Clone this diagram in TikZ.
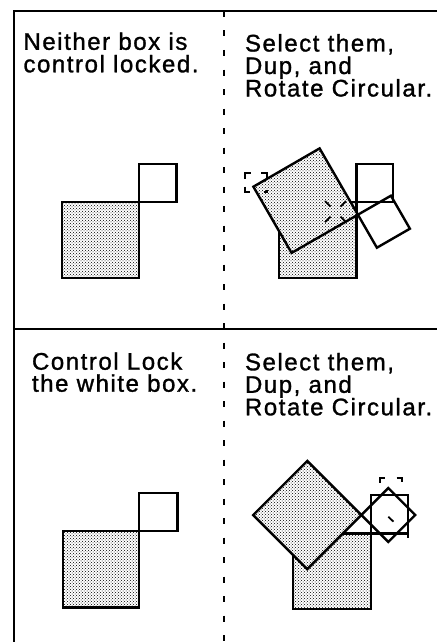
\documentclass[tikz,border=0pt]{standalone}
\usepackage{fontspec}
\setmainfont{Liberation Sans}[LetterSpace=6.5, FakeBold=1.2]
\usetikzlibrary{patterns}
\tikzset{
  frameline/.style={line width=2pt, black},
  vdashline/.style={line width=2.2pt, black, dash pattern=on 6pt off 13.5pt},
  gsq/.style={draw=black, line width=2.4pt, line join=miter, preaction={fill=white}, pattern=crosshatch dots, pattern color=black},
  wsq/.style={draw=black, line width=2.4pt, line join=miter},
  hmark/.style={line width=1.8pt, black},
  lbl/.style={anchor=base west, inner sep=0pt, outer sep=0pt, font=\fontsize{24}{26}\selectfont}
}
\begin{document}
\begin{tikzpicture}[x=1pt,y=-1pt]
\useasboundingbox (0,0) rectangle (437,642);
% frame
\coordinate (fBL) at (13.5,642);
\coordinate (fTL) at (13.5,11);
\coordinate (fTR) at (437,11);
\coordinate (fML) at (13.5,329);
\coordinate (fMR) at (437,329);
\coordinate (dT) at (224,11);
\coordinate (dB) at (224,642);
\draw[frameline] (fBL) -- (fTL) -- (fTR);
\draw[frameline] (fML) -- (fMR);
\draw[vdashline] (dT) -- (dB);

% texts
\node[lbl] (t1a) at (23.5,49.8) {Neither box is};
\node[lbl] (t1b) at (23.5,72.3) {control locked.};
\node[lbl] (t2a) at (245,51.5) {Select them,};
\node[lbl] (t2b) at (245,74) {Dup, and};
\node[lbl] (t2c) at (245,96.5) {Rotate Circular.};
\node[lbl] (t3a) at (32,369.7) {Control Lock};
\node[lbl] (t3b) at (32,391.7) {the white box.};
\node[lbl] (t4a) at (245,370.3) {Select them,};
\node[lbl] (t4b) at (245,392.8) {Dup, and};
\node[lbl] (t4c) at (245,415.3) {Rotate Circular.};

% row 1 left
\draw[gsq] (62,201.7) rectangle (138.7,278);
\draw[wsq] (138.7,164) rectangle (176.3,201.7);

% row 2 left
\draw[gsq] (63,531) rectangle (139,607.3);
\draw[wsq] (139,492.7) rectangle (177.5,531);

% row 1 right
\draw[gsq] (279,201.7) rectangle (356.3,278);
\draw[wsq] (356.3,164) rectangle (393,201.7);
\draw[gsq] (319.6,148.4) -- (253.4,186.7) -- (291.6,252.9) -- (357.9,214.7) -- cycle;
\draw[wsq] (357.9,214.7) -- (390.9,195.7) -- (409.9,228.7) -- (376.9,247.7) -- cycle;
% handle bracket
\draw[hmark] (245,179) -- (245,173.3) -- (250.5,173.3);
\draw[hmark] (261.2,173.3) -- (266.7,173.3) -- (266.7,178.5);
\draw[hmark] (245,186.5) -- (245,191.7) -- (250,191.7);
\draw[hmark] (264,191.7) -- (266.7,191.7) -- (266.7,189.5);
% pivot cross
\draw[hmark] (325,201.2) -- (330.5,206.7);
\draw[hmark] (346,201.2) -- (340.5,206.7);
\draw[hmark] (325,222.2) -- (330.5,216.7);
\draw[hmark] (346,222.2) -- (340.5,216.7);

% row 2 right
\draw[gsq] (293.2,533.3) rectangle (370.8,609);
\draw[wsq] (370.8,495) rectangle (407.7,533.3);
\draw[gsq] (307.3,460.9) -- (253.2,515) -- (307.3,569.1) -- (361.4,515) -- cycle;
\draw[wsq] (361.4,515) -- (388.3,488.1) -- (415.2,515) -- (388.3,541.9) -- cycle;
\draw[hmark] (380,482.5) -- (380,478.3) -- (385,478.3);
\draw[hmark] (396.7,478.3) -- (401.7,478.3) -- (401.7,482.3);
\draw[hmark] (388.3,516.7) -- (393.5,521.7);
\draw[hmark] (407.7,533.3) -- (407.7,538.3);
\end{tikzpicture}
\end{document}
